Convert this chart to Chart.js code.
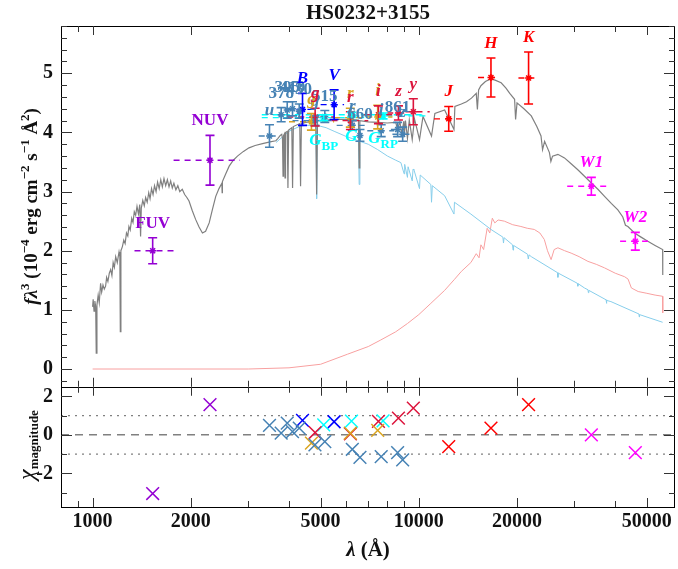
<!DOCTYPE html>
<html>
<head>
<meta charset="utf-8">
<script src="https://cdn.jsdelivr.net/npm/chart.js@4.4.1/dist/chart.umd.min.js"></script>
<style>
  html, body { margin: 0; padding: 0; background: #fff; overflow: hidden; }
  canvas { display: block; }
</style>
</head>
<body>
<canvas id="sed" width="678" height="569"></canvas>
<script>
// ---- model spectra, wavelength in Angstrom, f*lambda^3 in 1e-4 units ----
const grayWave = [1000,1004,1010,1016,1022,1026,1031,1040,1048,1058,1066,1076,1086,1096,1104,1114,1125,1136,1146,1156,1166,1177,1190,1205,1212,1216,1221,1234,1246,1258,1270,1282,1292,1304,1318,1330,1342,1355,1368,1382,1395,1403,1410,1425,1440,1454,1470,1486,1500,1516,1532,1548,1565,1582,1600,1618,1636,1655,1675,1695,1715,1735,1755,1775,1800,1825,1850,1883,1915,1945,1975,2020,2069,2120,2171,2220,2277,2330,2385,2440,2490,2495,2500,2560,2622,2700,2780,2900,3016,3150,3318,3500,3645,3700,3760,3800,3820,3835,3850,3875,3889,3903,3950,3970,3990,4080,4102,4124,4315,4340,4365,4500,4830,4861,4892,5200,5500,6000,6530,6563,6596,7000,7500,8000,8500,8598,8750,8863,9000,9015,9100,9229,9350,9545,9700,10049,10300,10938,11200,12000,12818,12900,13500,14000,14500,15000,15120,15250,15500,16000,16640,17200,17880,18500,19000,19660,19800,20000,21000,22120,23000,23690,23950,24300,25140,25400,25700,26690,27960,29300,30720,32200,33740,35400,37100,38900,40750,42200,43000,43740,45860,48000,50350,53000,55900,55950];
const grayFlux = [1.05,1.18,0.98,1.15,1.05,0.27,1.08,1.25,1.12,1.45,1.30,1.42,1.35,1.40,1.55,1.48,1.62,1.68,1.58,1.80,1.72,1.90,1.80,1.98,1.90,0.63,2.00,2.07,2.18,2.12,2.30,2.25,2.41,2.35,2.55,2.48,2.66,2.60,2.75,2.62,2.78,2.24,2.72,2.85,2.76,2.90,2.82,2.98,2.88,3.05,2.95,3.10,3.00,3.16,3.05,3.20,3.08,3.22,3.10,3.20,3.08,3.18,3.06,3.14,3.03,3.10,3.00,3.04,2.95,2.90,2.84,2.68,2.53,2.40,2.30,2.33,2.47,2.70,2.92,3.05,3.14,2.98,3.17,3.30,3.43,3.53,3.60,3.68,3.74,3.78,3.81,3.84,3.86,3.90,3.95,3.97,3.90,3.26,3.95,3.98,3.23,4.00,4.02,3.06,4.04,4.08,3.06,4.10,4.15,3.09,4.15,4.17,4.19,2.95,4.20,4.21,4.22,4.22,4.21,3.40,4.20,4.18,4.17,4.16,4.17,4.05,4.18,3.98,4.19,3.92,4.20,3.90,4.21,3.88,4.23,3.88,4.27,3.94,4.32,4.38,4.05,4.44,4.48,4.52,4.58,4.66,4.39,4.72,4.79,4.86,4.91,4.88,4.84,4.75,4.66,4.56,4.22,4.50,4.40,4.28,4.10,3.94,3.71,3.85,3.66,3.51,3.60,3.63,3.57,3.47,3.37,3.26,3.15,3.04,2.92,2.80,2.69,2.57,2.43,2.41,2.30,2.23,2.16,2.09,2.02,1.59];

const hotWave = [3650,4000,4300,4500,4840,4861,4882,5200,5500,6000,6530,6563,6596,7000,7480,8020,8500,8810,9015,9050,9229,9270,9545,9600,9660,10049,10100,10885,10938,11000,12000,12818,12860,14440,16640,18100,18179,18260,19380,19451,19520,21550,21661,21770,22120,26600,26690,26780,30600,30720,30850,32200,33000,33100,33200,37500,37600,37700,38800,47300,47400,47500,55900];
const hotFlux = [3.83,4.02,4.10,4.12,4.12,2.88,4.12,4.08,4.02,3.93,3.86,3.12,3.85,3.80,3.71,3.60,3.53,3.49,3.30,3.46,3.24,3.42,3.18,3.38,3.37,3.05,3.28,3.12,2.82,3.10,2.93,2.62,2.82,2.62,2.36,2.23,2.13,2.22,2.10,2.01,2.09,1.94,1.86,1.93,1.90,1.63,1.55,1.62,1.45,1.40,1.44,1.37,1.34,1.29,1.33,1.17,1.11,1.16,1.14,0.93,0.88,0.92,0.79];

const coolWave = [1000,3000,4000,5000,6043,7000,7640,8500,9233,10000,10885,12000,12834,13500,14440,15000,15300,15500,15800,16200,16500,16800,17100,17500,18290,19400,20550,21500,22590,23500,24250,24800,25440,26000,26690,28000,29300,31000,32990,35000,37100,40000,42760,43800,44840,47040,50000,53000,55900,55950];
const coolFlux = [0.00,0.00,0.02,0.08,0.25,0.38,0.49,0.63,0.77,0.92,1.11,1.33,1.51,1.65,1.80,1.95,1.88,2.10,2.02,2.38,2.30,2.55,2.47,2.52,2.50,2.44,2.41,2.38,2.36,2.30,2.19,2.00,1.85,2.02,2.05,2.00,1.96,1.90,1.82,1.77,1.71,1.62,1.56,1.52,1.37,1.31,1.28,1.25,1.23,0.95];

// ---- photometry ----
const photBand   = ['FUV','NUV','u','378','395','410','430','g','515','r','660','i','861','z','g','r','i','g','r','i','z','y','G_BP','G','G_RP','B','V','J','H','K','W1','W2'];
const photSurvey = ['GALEX','GALEX','JPLUS','JPLUS','JPLUS','JPLUS','JPLUS','JPLUS','JPLUS','JPLUS','JPLUS','JPLUS','JPLUS','JPLUS','SDSS','SDSS','SDSS','PS1','PS1','PS1','PS1','PS1','Gaia','Gaia','Gaia','APASS','APASS','2MASS','2MASS','2MASS','WISE','WISE'];
const photWave   = [1528,2290,3485,3785,3950,4100,4300,4803,5150,6254,6600,7668,8610,8922,4686,6166,7480,4810,6170,7520,8660,9620,5110,6218,7769,4400,5500,12350,16640,21700,33800,46100];
const photFlux   = [2.00,3.53,3.94,4.30,4.38,4.40,4.36,4.20,4.27,4.12,3.95,4.03,4.05,3.97,4.18,4.25,4.26,4.26,4.20,4.30,4.33,4.35,4.25,4.30,4.28,4.39,4.47,4.23,4.93,4.92,3.09,2.16];
const photErr    = [0.22,0.42,0.19,0.12,0.14,0.12,0.12,0.08,0.10,0.08,0.10,0.10,0.12,0.12,0.14,0.16,0.20,0.15,0.15,0.15,0.12,0.22,0.05,0.04,0.05,0.27,0.25,0.21,0.33,0.44,0.15,0.15];
const photWaveLo = [1344,1771,3230,3700,3900,4000,4200,4100,5050,5600,6530,6950,8210,8300,4000,5500,6900,3950,5400,6800,8000,9100,3300,3300,6300,3900,5000,11130,15190,20200,28500,41400];
const photWaveHi = [1786,2831,3740,3870,4000,4200,4400,5500,5250,6900,6670,8400,9010,9700,5500,6900,8300,5500,7000,8300,9300,10800,6800,10500,10500,4900,5900,13900,17330,22600,38800,51400];
const photChi    = [-3.05,1.57,0.49,0.09,0.61,0.17,0.35,-0.52,-0.35,-0.75,-1.17,-1.13,-0.92,-1.30,-0.43,0.09,0.23,0.12,0.05,0.70,0.87,1.39,0.52,0.71,0.73,0.75,0.68,-0.61,0.35,1.57,0.00,-0.92];

// ---- axes ----
const xMajor = [1000, 2000, 5000, 10000, 20000, 50000];
const xMinor = [900, 3000, 4000, 6000, 7000, 8000, 9000, 30000, 40000];
const yTopTicks = [0, 1, 2, 3, 4, 5];
const yBotTicks = [-2, 0, 2];

// ---- styles ----
const surveyColor = {
  GALEX: '#9400d3', JPLUS: '#4682b4', SDSS: '#daa520', PS1: '#dc143c',
  Gaia: '#00ffff', APASS: '#0000ff', '2MASS': '#ff0000', WISE: '#ff00ff'
};
const SERIF = '"Liberation Serif", "Times New Roman", serif';
const surveys = Object.keys(surveyColor);

function xy(ws, fs) { return ws.map((w, i) => ({x: w, y: fs[i]})); }

const datasets = [];
datasets.push({ label: 'total', data: xy(grayWave, grayFlux), yAxisID: 'y', borderColor: '#808080', borderWidth: 1.2, pointRadius: 0, order: 10 });
datasets.push({ label: 'hot', data: xy(hotWave, hotFlux), yAxisID: 'y', borderColor: '#87ceeb', borderWidth: 1, pointRadius: 0, order: 11 });
datasets.push({ label: 'cool', data: xy(coolWave, coolFlux), yAxisID: 'y', borderColor: '#f8a0a0', borderWidth: 1, pointRadius: 0, order: 12 });

// filter widths as dashed lines
photWave.forEach((w, i) => {
  datasets.push({
    data: [{x: photWaveLo[i], y: photFlux[i]}, {x: photWaveHi[i], y: photFlux[i]}],
    yAxisID: 'y', borderColor: surveyColor[photSurvey[i]], borderWidth: 1.4,
    borderDash: [6, 5], pointRadius: 0, order: 5
  });
});

// photometric points and residuals per survey
surveys.forEach(s => {
  const idx = photSurvey.map((v, i) => v === s ? i : -1).filter(i => i >= 0);
  datasets.push({
    data: idx.map(i => ({x: photWave[i], y: photFlux[i]})),
    yAxisID: 'y', showLine: false, pointStyle: 'star', pointRadius: 3.5,
    borderColor: surveyColor[s], backgroundColor: surveyColor[s], pointBorderWidth: 1.5, order: 1
  });
  datasets.push({
    data: idx.map(i => ({x: photWave[i], y: photChi[i]})),
    yAxisID: 'y2', showLine: false, pointStyle: 'crossRot', pointRadius: 9,
    borderColor: surveyColor[s], backgroundColor: surveyColor[s], pointBorderWidth: 1.5, order: 1
  });
});

// residual reference lines
[[1, [2, 5]], [-1, [2, 5]], [0, [8, 6]]].forEach(([v, dash]) => {
  datasets.push({
    data: [{x: 800, y: v}, {x: 61000, y: v}], yAxisID: 'y2',
    borderColor: '#808080', borderWidth: v === 0 ? 1.5 : 1.3, borderDash: dash, pointRadius: 0, order: 20
  });
});

// rich text helper: parts = [text, font, dy]
function richWidth(ctx, parts) {
  let w = 0;
  for (const p of parts) { ctx.font = p[1]; w += ctx.measureText(p[0]).width; }
  return w;
}
function drawRich(ctx, parts, x, y, align) {
  let w = richWidth(ctx, parts);
  let cx = align === 'center' ? x - w / 2 : (align === 'right' ? x - w : x);
  ctx.textAlign = 'left';
  for (const p of parts) {
    ctx.font = p[1];
    ctx.fillText(p[0], cx, y + (p[2] || 0));
    cx += ctx.measureText(p[0]).width;
  }
}

function labelParts(band, survey) {
  const it = 'italic bold 17px ' + SERIF;
  const up = 'bold 17px ' + SERIF;
  if (survey === 'GALEX') return [[band, up, 0]];
  if (band.indexOf('_') > 0) {
    const [a, b] = band.split('_');
    return [[a, it, 0], [b, 'bold 13px ' + SERIF, 5]];
  }
  if (/^[0-9]+$/.test(band)) return [[band, up, 0]];
  return [[band, it, 0]];
}

const decor = {
  id: 'decor',
  afterDatasetsDraw(chart) {
    const {ctx} = chart;
    const x = chart.scales.x, y = chart.scales.y;
    ctx.save();
    // error bars
    photWave.forEach((w, i) => {
      const px = x.getPixelForValue(w);
      const t = y.getPixelForValue(photFlux[i] + photErr[i]);
      const b = y.getPixelForValue(photFlux[i] - photErr[i]);
      ctx.strokeStyle = surveyColor[photSurvey[i]];
      ctx.lineWidth = 1.6;
      ctx.beginPath();
      ctx.moveTo(px, t); ctx.lineTo(px, b);
      ctx.moveTo(px - 4.5, t); ctx.lineTo(px + 4.5, t);
      ctx.moveTo(px - 4.5, b); ctx.lineTo(px + 4.5, b);
      ctx.stroke();
    });
    // band labels
    ctx.textBaseline = 'alphabetic';
    photWave.forEach((w, i) => {
      const s = photSurvey[i];
      const px = x.getPixelForValue(w);
      ctx.fillStyle = surveyColor[s];
      let py;
      if (s === 'Gaia') py = y.getPixelForValue(photFlux[i] - photErr[i]) + 24;
      else py = y.getPixelForValue(photFlux[i] + photErr[i]) - 10;
      drawRich(ctx, labelParts(photBand[i], s), px, py, 'center');
    });
    ctx.restore();
  },
  afterDraw(chart) {
    const {ctx} = chart;
    const x = chart.scales.x;
    ctx.save();
    ctx.lineWidth = 1;
    const panels = [
      {s: chart.scales.y, major: yTopTicks, minor: [], labels: yTopTicks},
      {s: chart.scales.y2, major: yBotTicks, minor: [1, -1, -3], labels: yBotTicks}
    ];
    for (let v = -0.2; v < 5.81; v += 0.2) {
      const r = Math.round(v * 10) / 10;
      if (Math.abs(r - Math.round(r)) > 0.01) panels[0].minor.push(r);
    }
    for (const p of panels) {
      const L = x.left, R = x.right, T = p.s.top, B = p.s.bottom;
      ctx.strokeStyle = '#000';
      ctx.strokeRect(L + 0.5, Math.round(T) + 0.5, R - L - 1, Math.round(B) - Math.round(T));
      ctx.strokeStyle = '#333';
      ctx.beginPath();
      const xt = (v, len) => {
        const px = Math.round(x.getPixelForValue(v)) + 0.5;
        ctx.moveTo(px, T); ctx.lineTo(px, T + len);
        ctx.moveTo(px, B); ctx.lineTo(px, B - len);
      };
      xMajor.forEach(v => xt(v, 9));
      xMinor.forEach(v => xt(v, 6));
      const yt = (v, len) => {
        const py = Math.round(p.s.getPixelForValue(v)) + 0.5;
        ctx.moveTo(L, py); ctx.lineTo(L + len, py);
        ctx.moveTo(R, py); ctx.lineTo(R - len, py);
      };
      p.major.forEach(v => yt(v, 11));
      p.minor.forEach(v => yt(v, 6));
      ctx.stroke();
      // y tick labels
      ctx.fillStyle = '#111';
      ctx.textBaseline = 'middle';
      p.labels.forEach(v => {
        drawRich(ctx, [[String(v), 'bold 20px ' + SERIF, 0]], L - 8, p.s.getPixelForValue(v), 'right');
      });
    }
    // x tick labels
    ctx.textBaseline = 'top';
    xMajor.forEach(v => {
      drawRich(ctx, [[String(v), 'bold 20px ' + SERIF, 0]], x.getPixelForValue(v), chart.scales.y2.bottom + 5, 'center');
    });
    // title
    ctx.textBaseline = 'alphabetic';
    drawRich(ctx, [['HS0232+3155', 'bold 21px ' + SERIF, 0]], (x.left + x.right) / 2, 19, 'center');
    // x title
    drawRich(ctx, [['λ', 'italic bold 21px ' + SERIF, 0], [' (Å)', 'bold 21px ' + SERIF, 0]], (x.left + x.right) / 2, 556, 'center');
    // y titles (rotated)
    const b = 'bold 19px ' + SERIF, it = 'italic bold 19px ' + SERIF, sp = 'bold 13px ' + SERIF;
    const yTitle = [['f', it, 0], ['λ', it, 0], ['3', sp, -8], [' (10', b, 0], ['−4', sp, -8], [' erg cm', b, 0], ['−2', sp, -8],
                    [' s', b, 0], ['−1', sp, -8], [' Å', b, 0], ['2', sp, -8], [')', b, 0]];
    const yt = chart.scales.y;
    ctx.save();
    ctx.translate(37, (yt.top + yt.bottom) / 2);
    ctx.rotate(-Math.PI / 2);
    drawRich(ctx, yTitle, 0, 0, 'center');
    ctx.restore();
    ctx.save();
    ctx.translate(34, 445);
    ctx.rotate(-Math.PI / 2);
    drawRich(ctx, [['χ', 'italic 24px ' + SERIF, 0], ['magnitude', 'bold 13px ' + SERIF, 4]], 0, 0, 'center');
    ctx.restore();
    ctx.restore();
  }
};

const hidden = { display: false, drawTicks: false };
const noLabels = { display: false };

new Chart(document.getElementById('sed'), {
  type: 'line',
  data: { datasets },
  options: {
    responsive: false,
    animation: false,
    devicePixelRatio: 1,
    layout: { autoPadding: false, padding: { top: 26, right: 3, left: 61, bottom: 62 } },
    plugins: { legend: { display: false }, tooltip: { enabled: false }, title: { display: false } },
    elements: { line: { tension: 0 } },
    scales: {
      x: {
        type: 'logarithmic', min: 800, max: 61000, position: 'bottom',
        grid: hidden, border: { display: false }, ticks: noLabels,
        afterFit: s => { s.height = 0; s.paddingLeft = 0; s.paddingRight = 0; }
      },
      y2: {
        type: 'linear', min: -3.75, max: 2.5, position: 'left', stack: 'panels', stackWeight: 1,
        grid: hidden, border: { display: false }, ticks: noLabels,
        afterFit: s => { s.width = 0; }
      },
      y: {
        type: 'linear', min: -0.3, max: 5.8, position: 'left', stack: 'panels', stackWeight: 3,
        grid: hidden, border: { display: false }, ticks: noLabels,
        afterFit: s => { s.width = 0; }
      }
    }
  },
  plugins: [decor]
});
</script>
</body>
</html>
